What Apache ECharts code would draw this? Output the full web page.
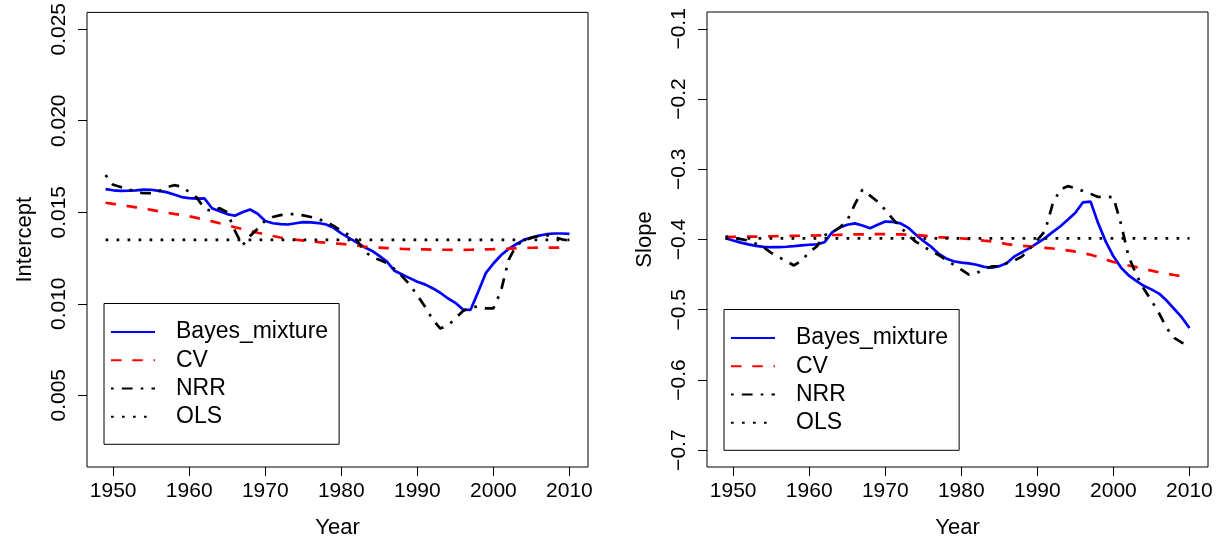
<!DOCTYPE html>
<html>
<head>
<meta charset="utf-8">
<script src="https://cdn.jsdelivr.net/npm/echarts@6/dist/echarts.min.js"></script>
<style>
html,body{margin:0;padding:0;background:#fff;}
#chart{width:1227px;height:544px;}
</style>
</head>
<body>
<div id="chart"></div>
<script>
// ---- Data ----
const years = [];
for (let y = 1949; y <= 2010; y++) years.push(y);

const xTicks = [1950, 1960, 1970, 1980, 1990, 2000, 2010];
const interceptTicks = [0.005, 0.010, 0.015, 0.020, 0.025];
const slopeTicks = [-0.7, -0.6, -0.5, -0.4, -0.3, -0.2, -0.1];
const seriesNames = ['Bayes_mixture', 'CV', 'NRR', 'OLS'];

const interceptBayes = [
  0.01626, 0.01620, 0.01617, 0.01618, 0.01620, 0.01624, 0.01623, 0.01617, 0.01610, 0.01597,
  0.01583, 0.01577, 0.01574, 0.01576, 0.01522, 0.01505, 0.01490, 0.01481, 0.01500, 0.01515,
  0.01492, 0.01452, 0.01440, 0.01435, 0.01433, 0.01440, 0.01446, 0.01445, 0.01441, 0.01433,
  0.01415, 0.01385, 0.01360, 0.01335, 0.01310, 0.01290, 0.01262, 0.01230, 0.01180, 0.01160,
  0.01140, 0.01120, 0.01106, 0.01085, 0.01060, 0.01030, 0.01005, 0.00968, 0.00967, 0.01065,
  0.01167, 0.01220, 0.01265, 0.01300, 0.01325, 0.01349, 0.01362, 0.01372, 0.01380, 0.01384,
  0.01384, 0.01382
];
const interceptCV = [
  0.01552, 0.01546, 0.01540, 0.01533, 0.01527, 0.01520, 0.01513, 0.01505, 0.01498, 0.01491,
  0.01485, 0.01478, 0.01469, 0.01460, 0.01450, 0.01440, 0.01430, 0.01418, 0.01408, 0.01398,
  0.01388, 0.01380, 0.01370, 0.01362, 0.01356, 0.01350, 0.01345, 0.01341, 0.01337, 0.01334,
  0.01330, 0.01327, 0.01323, 0.01318, 0.01313, 0.01310, 0.01307, 0.01304, 0.01302, 0.01300,
  0.01299, 0.01298, 0.01297, 0.01296, 0.01295, 0.01295, 0.01294, 0.01294, 0.01295, 0.01296,
  0.01297, 0.01298, 0.01300, 0.01301, 0.01303, 0.01305, 0.01306, 0.01307, 0.01307, 0.01307,
  0.01307, 0.01307
];
const interceptNRR = [
  0.01703, 0.01650, 0.01638, 0.01625, 0.01612, 0.01604, 0.01605, 0.01615, 0.01635, 0.01648,
  0.01640, 0.01610, 0.01580, 0.01520, 0.01505, 0.01522, 0.01500, 0.01400, 0.01318, 0.01370,
  0.01410, 0.01455, 0.01474, 0.01484, 0.01489, 0.01490, 0.01483, 0.01474, 0.01462, 0.01448,
  0.01425, 0.01398, 0.01375, 0.01350, 0.01290, 0.01255, 0.01240, 0.01222, 0.01190, 0.01150,
  0.01105, 0.01045, 0.00985, 0.00915, 0.00865, 0.00880, 0.00920, 0.00960, 0.00980, 0.00985,
  0.00975, 0.00975, 0.01070, 0.01240, 0.01318, 0.01345, 0.01360, 0.01372, 0.01374, 0.01365,
  0.01352, 0.01345
];
const interceptOLS = years.map(() => 0.01349);

const slopeBayes = [
  -0.3980, -0.4015, -0.4045, -0.4070, -0.4090, -0.4105, -0.4110, -0.4108, -0.4103, -0.4095,
  -0.4085, -0.4075, -0.4070, -0.4040, -0.3900, -0.3830, -0.3790, -0.3770, -0.3800, -0.3840,
  -0.3790, -0.3745, -0.3750, -0.3770, -0.3830, -0.3930, -0.4020, -0.4100, -0.4200, -0.4270,
  -0.4310, -0.4330, -0.4340, -0.4360, -0.4390, -0.4400, -0.4380, -0.4336, -0.4240, -0.4180,
  -0.4120, -0.4050, -0.3980, -0.3895, -0.3815, -0.3720, -0.3620, -0.3470, -0.3460, -0.3770,
  -0.4030, -0.4240, -0.4400, -0.4510, -0.4590, -0.4660, -0.4710, -0.4770, -0.4870, -0.4990,
  -0.5110, -0.5260
];
const slopeCV = [
  -0.3966, -0.3964, -0.3962, -0.3960, -0.3958, -0.3956, -0.3954, -0.3952, -0.3950, -0.3948,
  -0.3946, -0.3944, -0.3942, -0.3939, -0.3936, -0.3933, -0.3930, -0.3928, -0.3926, -0.3925,
  -0.3924, -0.3924, -0.3925, -0.3927, -0.3931, -0.3937, -0.3945, -0.3955, -0.3965, -0.3972,
  -0.3978, -0.3983, -0.3993, -0.4005, -0.4017, -0.4028, -0.4045, -0.4065, -0.4080, -0.4090,
  -0.4098, -0.4108, -0.4118, -0.4128, -0.4140, -0.4155, -0.4172, -0.4193, -0.4218, -0.4248,
  -0.4285, -0.4320, -0.4345, -0.4370, -0.4393, -0.4418, -0.4443, -0.4469, -0.4488, -0.4506,
  -0.4523, -0.4540
];
const slopeNRR = [
  -0.3957, -0.3975, -0.3995, -0.4015, -0.4060, -0.4110, -0.4190, -0.4250, -0.4310, -0.4370,
  -0.4300, -0.4180, -0.4100, -0.3940, -0.3900, -0.3830, -0.3730, -0.3500, -0.3290, -0.3375,
  -0.3460, -0.3580, -0.3710, -0.3820, -0.3940, -0.4030, -0.4100, -0.4160, -0.4220, -0.4290,
  -0.4360, -0.4430, -0.4500, -0.4480, -0.4420, -0.4384, -0.4384, -0.4336, -0.4300, -0.4240,
  -0.4130, -0.4010, -0.3880, -0.3500, -0.3290, -0.3240, -0.3270, -0.3310, -0.3350, -0.3395,
  -0.3390, -0.3397, -0.3780, -0.4240, -0.4500, -0.4700, -0.4870, -0.5050, -0.5260, -0.5400,
  -0.5470, -0.5497
];
const slopeOLS = years.map(() => -0.3985);

// ---- Chart ----
const FONT = 'Liberation Sans, Arial, Helvetica, sans-serif';
const pair = vals => years.map((y, i) => [y, vals[i]]);
const styles = [
  { color: '#0000FF', type: 'solid' },
  { color: '#FF0000', type: [10.5, 10.8] },
  { color: '#000000', type: [2.7, 8.1, 10.8, 8.1] },
  { color: '#000000', type: [2.7, 8.3] }
];
function mkSeries(name, vals, idx, k) {
  return {
    name: name, type: 'line', xAxisIndex: idx, yAxisIndex: idx,
    data: pair(vals), symbol: 'none', showSymbol: false, silent: true,
    lineStyle: { color: styles[k].color, width: 2.7, type: styles[k].type, cap: 'butt' },
    itemStyle: { color: styles[k].color },
    z: 2 + k
  };
}
function mkXAxis(grid) {
  return {
    type: 'value', gridIndex: grid, min: 1946.56, max: 2012.44,
    name: 'Year', nameLocation: 'middle', nameGap: 50,
    nameTextStyle: { fontFamily: FONT, fontSize: 22, color: '#000' },
    axisLine: { show: false },
    axisTick: { show: true, inside: false, length: 9, customValues: xTicks, lineStyle: { color: '#000', width: 1 } },
    axisLabel: { customValues: xTicks, margin: 14, fontFamily: FONT, fontSize: 21, color: '#000', formatter: v => String(v) },
    splitLine: { show: false }
  };
}
function mkYAxis(grid, min, max, ticks, name, fmt) {
  return {
    type: 'value', gridIndex: grid, min: min, max: max,
    name: name, nameLocation: 'middle', nameGap: 51, nameRotate: 90,
    nameTextStyle: { fontFamily: FONT, fontSize: 22, color: '#000' },
    axisLine: { show: false },
    axisTick: { show: true, inside: false, length: 9, customValues: ticks, lineStyle: { color: '#000', width: 1 } },
    axisLabel: { customValues: ticks, rotate: 90, margin: 17, fontFamily: FONT, fontSize: 21, color: '#000', formatter: fmt },
    splitLine: { show: false }
  };
}
function mkLegend(left, top) {
  return {
    data: seriesNames, orient: 'vertical', left: left, top: top,
    padding: [14.5, 11, 13.5, 6], itemGap: 0, itemWidth: 44, itemHeight: 14,
    borderColor: '#000', borderWidth: 1, backgroundColor: '#fff',
    selectedMode: false,
    itemStyle: { color: 'rgba(0,0,0,0)', borderWidth: 0, opacity: 0 },
    textStyle: { fontFamily: FONT, fontSize: 23, color: '#000', lineHeight: 28.2, padding: [0, 0, 0, 16] }
  };
}

const chart = echarts.init(document.getElementById('chart'), null, { renderer: 'canvas' });
chart.setOption({
  backgroundColor: '#fff',
  animation: false,
  grid: [
    { left: 87, top: 12, width: 501, height: 456, show: true, borderColor: '#000', borderWidth: 1, backgroundColor: 'transparent' },
    { left: 707, top: 12, width: 501, height: 456, show: true, borderColor: '#000', borderWidth: 1, backgroundColor: 'transparent' }
  ],
  xAxis: [mkXAxis(0), mkXAxis(1)],
  yAxis: [
    mkYAxis(0, 0.00108, 0.02592, interceptTicks, 'Intercept', v => v.toFixed(3)),
    mkYAxis(1, -0.724, -0.076, slopeTicks, 'Slope', v => '\u2212' + Math.abs(v).toFixed(1))
  ],
  legend: [mkLegend(104, 303.5), mkLegend(724, 309.5)],
  series: [
    mkSeries('Bayes_mixture', interceptBayes, 0, 0),
    mkSeries('CV', interceptCV, 0, 1),
    mkSeries('NRR', interceptNRR, 0, 2),
    mkSeries('OLS', interceptOLS, 0, 3),
    mkSeries('Bayes_mixture', slopeBayes, 1, 0),
    mkSeries('CV', slopeCV, 1, 1),
    mkSeries('NRR', slopeNRR, 1, 2),
    mkSeries('OLS', slopeOLS, 1, 3)
  ]
});
</script>
</body>
</html>
